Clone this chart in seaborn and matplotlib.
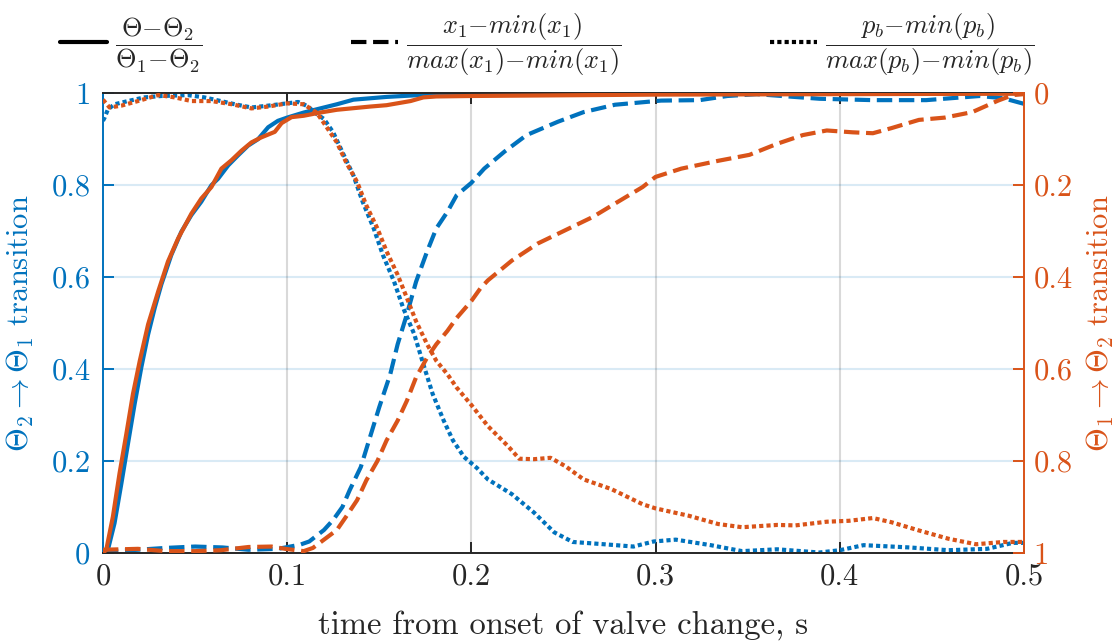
import numpy as np
import pandas as pd
import matplotlib
matplotlib.use("Agg")
import matplotlib.pyplot as plt
from matplotlib.lines import Line2D
import seaborn as sns

# ---------------- data ----------------
# Theta_2 -> Theta_1 transition (left axis, blue)
t_theta_a = [0, 0.0027, 0.0063, 0.010, 0.0136, 0.0172, 0.0208, 0.0245, 0.0281, 0.0317,
             0.0371, 0.0426, 0.048, 0.0534, 0.0589, 0.0625, 0.068, 0.0734, 0.0788, 0.0842,
             0.0897, 0.095, 0.10, 0.109, 0.127, 0.136, 0.154, 0.172, 0.20, 0.25, 0.5]
theta_a = [0, 0.007, 0.065, 0.151, 0.238, 0.324, 0.403, 0.475, 0.533, 0.584,
           0.648, 0.699, 0.735, 0.764, 0.80, 0.814, 0.843, 0.865, 0.886, 0.90,
           0.926, 0.94, 0.947, 0.958, 0.976, 0.986, 0.992, 0.996, 0.999, 1.0, 1.0]

t_x1_a = [0, 0.0045, 0.019, 0.034, 0.05, 0.065, 0.079, 0.095, 0.107, 0.112, 0.12, 0.125,
          0.13, 0.134, 0.14, 0.145, 0.15, 0.156, 0.16, 0.165, 0.17, 0.176, 0.181, 0.187,
          0.192, 0.2, 0.207, 0.218, 0.23, 0.247, 0.261, 0.278, 0.303, 0.324, 0.339, 0.355,
          0.372, 0.389, 0.418, 0.447, 0.476, 0.489, 0.5]
x1_a = [0.006, 0.004, 0.007, 0.011, 0.014, 0.012, 0.007, 0.009, 0.018, 0.025, 0.05, 0.072,
        0.10, 0.137, 0.187, 0.252, 0.317, 0.389, 0.454, 0.519, 0.59, 0.656, 0.706, 0.742,
        0.778, 0.805, 0.836, 0.873, 0.909, 0.938, 0.959, 0.975, 0.984, 0.985, 0.994, 0.998,
        0.993, 0.988, 0.985, 0.985, 0.994, 0.989, 0.977]

t_pb_a = [0, 0.0009, 0.0027, 0.0063, 0.0136, 0.0226, 0.0317, 0.046, 0.055, 0.064, 0.0716,
          0.0806, 0.0897, 0.1, 0.106, 0.111, 0.116, 0.12, 0.125, 0.13, 0.136, 0.141, 0.147,
          0.152, 0.158, 0.163, 0.169, 0.174, 0.179, 0.185, 0.19, 0.196, 0.203, 0.209, 0.222,
          0.234, 0.245, 0.255, 0.272, 0.288, 0.299, 0.311, 0.33, 0.347, 0.366, 0.389, 0.4,
          0.413, 0.438, 0.459, 0.48, 0.494, 0.5]
pb_a = [0.94, 0.947, 0.965, 0.976, 0.983, 0.991, 0.994, 0.996, 0.991, 0.983, 0.976,
        0.969, 0.973, 0.978, 0.981, 0.972, 0.955, 0.944, 0.915, 0.872, 0.821, 0.764, 0.706,
        0.648, 0.591, 0.533, 0.476, 0.41, 0.346, 0.288, 0.245, 0.209, 0.185, 0.16, 0.128,
        0.088, 0.045, 0.024, 0.019, 0.014, 0.025, 0.029, 0.017, 0.004, 0.008, 0.001, 0.006,
        0.017, 0.012, 0.006, 0.009, 0.022, 0.022]

# Theta_1 -> Theta_2 transition (right axis, orange, inverted: 1 at bottom, 0 at top)
t_theta_b = [0, 0.0018, 0.0054, 0.009, 0.0127, 0.0163, 0.02, 0.0245, 0.03, 0.0353, 0.0408,
             0.048, 0.0534, 0.0589, 0.0643, 0.0697, 0.0752, 0.0806, 0.086, 0.0933, 0.097,
             0.1024, 0.109, 0.118, 0.127, 0.145, 0.154, 0.167, 0.174, 0.181, 0.20, 0.30,
             0.40, 0.5]
theta_b = [1.0, 0.993, 0.921, 0.827, 0.741, 0.654, 0.582, 0.503, 0.431, 0.366, 0.316,
           0.262, 0.229, 0.204, 0.164, 0.146, 0.125, 0.107, 0.096, 0.084, 0.065,
           0.052, 0.049, 0.042, 0.036, 0.029, 0.026, 0.017, 0.009, 0.007, 0.006, 0.003,
           0.002, 0.001]

t_x1_b = [0, 0.019, 0.034, 0.05, 0.064, 0.079, 0.0915, 0.099, 0.109, 0.114, 0.121, 0.127,
          0.132, 0.138, 0.143, 0.149, 0.154, 0.16, 0.165, 0.17, 0.176, 0.181, 0.187, 0.192,
          0.2, 0.205, 0.209, 0.222, 0.236, 0.251, 0.266, 0.278, 0.293, 0.3, 0.314, 0.334,
          0.351, 0.366, 0.38, 0.393, 0.407, 0.418, 0.428, 0.443, 0.457, 0.472, 0.486,
          0.494, 0.5]
x1_b = [0.993, 0.991, 0.996, 0.996, 0.994, 0.987, 0.986, 0.991, 0.996, 0.989, 0.968, 0.95,
        0.921, 0.885, 0.842, 0.80, 0.755, 0.712, 0.669, 0.618, 0.575, 0.546, 0.517, 0.489,
        0.452, 0.424, 0.407, 0.364, 0.327, 0.298, 0.269, 0.24, 0.204, 0.182, 0.164, 0.147,
        0.134, 0.11, 0.091, 0.081, 0.085, 0.087, 0.076, 0.058, 0.053, 0.041, 0.016,
        0.004, 0.002]

t_pb_b = [0, 0.0036, 0.01, 0.019, 0.03, 0.039, 0.048, 0.0589, 0.07, 0.0806, 0.0897, 0.1,
          0.109, 0.116, 0.121, 0.127, 0.132, 0.138, 0.143, 0.149, 0.154, 0.16, 0.165, 0.17,
          0.176, 0.181, 0.187, 0.192, 0.2, 0.209, 0.22, 0.226, 0.234, 0.243, 0.251, 0.261,
          0.276, 0.293, 0.3, 0.318, 0.334, 0.347, 0.366, 0.376, 0.393, 0.405, 0.418, 0.428,
          0.443, 0.459, 0.474, 0.489, 0.5]
pb_b = [0.014, 0.031, 0.027, 0.017, 0.004, 0.009, 0.017, 0.017, 0.024, 0.033, 0.029, 0.022,
        0.024, 0.042, 0.071, 0.107, 0.15, 0.193, 0.244, 0.294, 0.344, 0.395, 0.445, 0.496,
        0.546, 0.582, 0.611, 0.64, 0.678, 0.724, 0.768, 0.795, 0.796, 0.793, 0.811, 0.84,
        0.861, 0.894, 0.903, 0.919, 0.937, 0.944, 0.939, 0.94, 0.932, 0.93, 0.924, 0.933,
        0.951, 0.969, 0.981, 0.976, 0.976]

x_ticks = [0, 0.1, 0.2, 0.3, 0.4, 0.5]
x_tick_labels = ["0", "0.1", "0.2", "0.3", "0.4", "0.5"]
y_ticks = [0, 0.2, 0.4, 0.6, 0.8, 1.0]
y_tick_labels = ["0", "0.2", "0.4", "0.6", "0.8", "1"]

legend_labels = [r"$\dfrac{\Theta{-}\Theta_2}{\Theta_1{-}\Theta_2}$",
                 r"$\dfrac{x_1{-}min(x_1)}{max(x_1){-}min(x_1)}$",
                 r"$\dfrac{p_b{-}min(p_b)}{max(p_b){-}min(p_b)}$"]

# ---------------- style ----------------
sns.set_style("white")
plt.rcParams["font.family"] = ["cmr10", "DejaVu Serif"]
plt.rcParams["mathtext.fontset"] = "cm"
plt.rcParams["axes.formatter.use_mathtext"] = True
plt.rcParams["axes.unicode_minus"] = False

BLUE = "#0072BD"
ORANGE = "#D95319"
LW = 3.0
DOT = (0, (1.0, 0.75))

fig = plt.figure(figsize=(11.19, 6.43), dpi=100)
ax = fig.add_axes([0.092, 0.140, 0.823, 0.715])
ax2 = ax.twinx()

def draw(a, t, v, color, ls):
    df = pd.DataFrame({"t": t, "v": v})
    sns.lineplot(data=df, x="t", y="v", ax=a, color=color, linestyle=ls, lw=LW,
                 estimator=None, sort=False, legend=False)

draw(ax, t_theta_a, theta_a, BLUE, "-")
draw(ax, t_x1_a, x1_a, BLUE, "--")
draw(ax, t_pb_a, pb_a, BLUE, DOT)
draw(ax2, t_theta_b, theta_b, ORANGE, "-")
draw(ax2, t_x1_b, x1_b, ORANGE, "--")
draw(ax2, t_pb_b, pb_b, ORANGE, DOT)

ax.set_xlim(0, 0.5)
ax.set_ylim(0, 1)
ax2.set_ylim(1, 0)

FS = 22
ax.set_xticks(x_ticks, x_tick_labels, fontsize=FS)
ax.set_yticks(y_ticks, y_tick_labels, fontsize=FS)
ax2.set_yticks(y_ticks, y_tick_labels, fontsize=FS)

ax.grid(False)
ax2.grid(False)
ax.set_axisbelow(True)
for yv in y_ticks[1:-1]:
    ax.axhline(yv, color=BLUE, alpha=0.15, lw=1.5, zorder=0)
for xv in x_ticks[1:-1]:
    ax.axvline(xv, color="k", alpha=0.15, lw=1.5, zorder=0)

for s in ax.spines.values():
    s.set_linewidth(1.4)
for s in ax2.spines.values():
    s.set_linewidth(1.4)
ax.spines["top"].set_color("#262626")
ax.spines["bottom"].set_color("#262626")
ax.spines["left"].set_color(BLUE)
ax.spines["right"].set_visible(False)
ax2.spines["left"].set_visible(False)
ax2.spines["top"].set_visible(False)
ax2.spines["bottom"].set_visible(False)
ax2.spines["right"].set_color(ORANGE)

ax.tick_params(axis="x", direction="in", length=8, width=1.4, colors="#262626",
               top=True, bottom=True, pad=7, labelcolor="#262626")
ax.tick_params(axis="y", direction="in", length=8, width=1.4, colors=BLUE, pad=9,
               left=True, right=False)
ax2.tick_params(axis="y", direction="in", length=8, width=1.4, colors=ORANGE, pad=7)

ax.set_xlabel("time from onset of valve change, s", fontsize=23.5, color="#262626",
              labelpad=14)
ax.set_ylabel(r"$\Theta_2\rightarrow\Theta_1$ transition", fontsize=22, color=BLUE,
              labelpad=11)
ax2.set_ylabel(r"$\Theta_1\rightarrow\Theta_2$ transition", fontsize=22, color=ORANGE,
               rotation=90, labelpad=9)

handles = [Line2D([], [], color="k", lw=LW, linestyle="-"),
           Line2D([], [], color="k", lw=LW, linestyle="--"),
           Line2D([], [], color="k", lw=LW, linestyle=DOT)]
fig.legend(handles, legend_labels, loc="center", bbox_to_anchor=(0.489, 0.93), ncol=3,
           frameon=False, fontsize=19, handlelength=1.8, handletextpad=0.3,
           columnspacing=5.6, borderaxespad=0)

fig.savefig("out.png", dpi=100)
